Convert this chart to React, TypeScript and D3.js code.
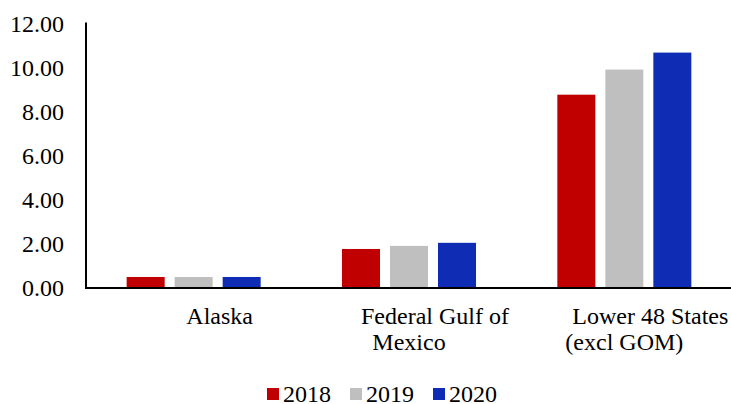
import React from "react";
import * as d3 from "d3";

const categories = ["Alaska", "Federal Gulf of Mexico", "Lower 48 States (excl GOM)"];
const categoryLines = [["Alaska"], ["Federal Gulf of", "Mexico"], ["Lower 48 States", "(excl GOM)"]];
const seriesNames = ["2018", "2019", "2020"];
const values2018 = [0.5, 1.77, 8.77];
const values2019 = [0.5, 1.91, 9.91];
const values2020 = [0.5, 2.05, 10.68];
const seriesValues = [values2018, values2019, values2020];
const seriesColors = ["#C00000", "#BFBFBF", "#0E2DB4"];
const yTicks = [0, 2, 4, 6, 8, 10, 12];

const W = 731;
const H = 404;
const FONT = "Liberation Serif";

export default function App() {
  const x0 = d3.scaleBand<string>().domain(categories).range([86, 732]).paddingInner(0).paddingOuter(0);
  const x1 = d3
    .scaleBand<string>()
    .domain(seriesNames)
    .range([0, x0.bandwidth()])
    .paddingInner(0.2083)
    .paddingOuter(0.847);
  const y = d3.scaleLinear().domain([0, 12]).range([288, 23.5]);

  return (
    <svg
      width={W}
      height={H}
      fontFamily={FONT}
      style={{ position: "absolute", left: 0, top: 0, background: "#fff", fontFamily: FONT }}
    >
      <style>{`text { font-family: "Liberation Serif", serif; }`}</style>
      <rect x={0} y={0} width={W} height={H} fill="#fff" />
      {yTicks.map((t) => (
        <text key={t} x={64} y={y(t)} dy="0.35em" textAnchor="end" fontSize={24} fill="#000" fontFamily={FONT} style={{ fontFamily: FONT }}>
          {d3.format(".2f")(t)}
        </text>
      ))}
      {categories.map((c, ci) =>
        seriesNames.map((s, si) => {
          const v = seriesValues[si][ci];
          return (
            <rect
              key={c + s}
              x={(x0(c) ?? 0) + (x1(s) ?? 0)}
              y={y(v)}
              width={x1.bandwidth()}
              height={y(0) - y(v)}
              fill={seriesColors[si]}
            />
          );
        })
      )}
      <line x1={86} x2={86} y1={y(12) - 1} y2={y(0) + 1} stroke="#000" strokeWidth={2} />
      <line x1={85} x2={W} y1={y(0)} y2={y(0)} stroke="#000" strokeWidth={2} />
      {categories.map((c, ci) => {
        const cx = (x0(c) ?? 0) + x0.bandwidth() / 2;
        return categoryLines[ci].map((ln, li) => (
          <text
            key={c + li}
            x={cx + (li === 0 ? 26 : 0)}
            y={324 + li * 26}
            textAnchor="middle"
            fontSize={24}
            fill="#000"
            fontFamily={FONT}
            style={{ fontFamily: FONT }}
          >
            {ln}
          </text>
        ));
      })}
      {seriesNames.map((s, si) => (
        <g key={s} transform={`translate(${267 + si * 83},0)`}>
          <rect x={0} y={388} width={12} height={12} fill={seriesColors[si]} />
          <text x={16} y={402} fontSize={24} fill="#000" fontFamily={FONT} style={{ fontFamily: FONT }}>
            {s}
          </text>
        </g>
      ))}
    </svg>
  );
}
